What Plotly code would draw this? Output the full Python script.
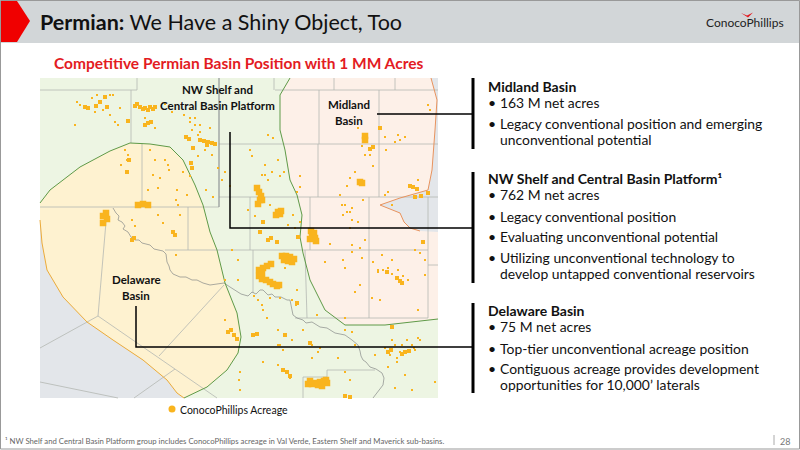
import plotly.graph_objects as go

# ── MAP REGIONS (slide coordinates) ──────────────────────────────────────
MAP_X = [40, 438, 438, 40]
MAP_Y = [78, 78, 398, 398]

DELAWARE_X = [40, 50, 80, 110, 130, 150, 170, 183, 195, 203, 210, 217, 225, 237, 241, 238, 227, 207, 184,
              177, 167, 143, 113, 87, 63, 47, 42, 40]
DELAWARE_Y = [203, 190, 167, 151, 143, 144, 147, 160, 185, 205, 232, 250, 283, 313, 337, 353, 370, 387, 398,
              393, 380, 360, 340, 322, 297, 270, 243, 220]

WEST_GRAY_X = [40, 42, 47, 63, 87, 113, 143, 167, 177, 184, 40]
WEST_GRAY_Y = [220, 243, 270, 297, 322, 340, 360, 380, 393, 398, 398]

MIDLAND_X = [290, 280, 280, 285, 290, 297, 302, 300, 303, 310, 325, 345, 385, 438, 438]
MIDLAND_Y = [78, 95, 130, 150, 180, 195, 215, 237, 253, 280, 310, 325, 325, 319, 78]

EAST_GRAY_X = [431, 437, 435, 432, 428, 400, 380, 400, 404, 410, 420, 438, 438]
EAST_GRAY_Y = [78, 100, 130, 170, 190, 198, 205, 213, 222, 228, 231, 232, 78]

# county / state boundary lines, None breaks the line
COUNTY_X = [40, 137, 137, None, 131, 131, None, 142, 142, None, 40, 219, None, 219, 438, None,
            275, 438, None, 274, 274, None, 334, 334, None, 395, 395, None, 319, 319, None,
            379, 379, None, 318, 318, None, 219, 438, None, 250, 250, None, 310, 310, None,
            369, 369, None, 428, 428, None, 188, 188, None, 165, 428, None, 253, 253, None,
            305, 307, None, 295, 428, None, 428, 438, None, 106, 98, None, 98, 175, 217, None,
            98, 40, None, 224, 159, None, 175, 134, None, 40, 118, None, 303, 303, 327, 327, 375]
COUNTY_Y = [90, 90, 78, None, 90, 143, None, 143, 207, None, 207, 207, None, 144, 144, None,
            90, 90, None, 78, 90, None, 78, 90, None, 78, 90, None, 90, 144, None,
            90, 197, None, 144, 197, None, 197, 197, None, 197, 250, None, 197, 250, None,
            197, 318, None, 197, 318, None, 207, 250, None, 250, 250, None, 250, 293, None,
            250, 318, None, 318, 318, None, 265, 265, None, 222, 316, None, 316, 369, 398, None,
            316, 348, None, 285, 356, None, 369, 398, None, 382, 398, None, 398, 377, 377, 370, 370]
STATE_X = [219, 219]
STATE_Y = [78, 207]

RIVER_X = [113, 116, 119, 118, 122, 125, 123, 128, 131, 135, 139, 142, 146, 150, 154, 158, 163, 166, 167, 169,
           170, 173, 176, 180, 186, 192, 197, 203, 210, 217, 224, 230, 235, 241, 248, 252, 256, 260, 263, 268,
           272, 275, 281, 287, 290, 292, 293, 297, 303, 306, 312, 320, 327, 335, 345, 352, 358, 360, 361, 363,
           366, 370, 376, 382, 384, 383, 379, 375, 373]
RIVER_Y = [208, 213, 216, 220, 222, 226, 229, 232, 237, 240, 240, 243, 244, 245, 249, 250, 251, 254, 262, 266,
           270, 274, 275, 277, 277, 280, 280, 283, 285, 284, 283, 287, 290, 294, 296, 292, 294, 290, 290, 295,
           294, 297, 297, 300, 300, 308, 315, 318, 320, 323, 322, 327, 328, 333, 335, 340, 345, 351, 356, 360,
           362, 367, 369, 373, 378, 385, 390, 395, 398]

# ── ACREAGE ───────────────────────────────────────────────────────────────
ACRE_BIG_X = [257, 259, 261, 262, 258, 260, 278, 276, 281, 280, 311, 314, 312, 315, 310, 316,
              282, 286, 290, 294, 284, 288, 292, 259, 263, 267, 271, 259, 262, 266, 270, 273, 277, 279, 262,
              308, 312, 316, 320, 324, 327, 310, 318, 322, 326, 143, 138, 148, 106, 103, 107, 103, 365, 365, 360, 362]
ACRE_BIG_Y = [188, 192, 196, 200, 204, 200, 212, 215, 211, 214, 231, 233, 236, 238, 239, 241,
              256, 256, 257, 259, 260, 261, 262, 270, 268, 266, 264, 276, 279, 280, 282, 284, 286, 285, 273,
              384, 384, 383, 382, 381, 383, 381, 385, 386, 380, 204, 205, 205, 213, 216, 219, 223, 136, 140, 182, 183]

ACRE_MID_X = [135, 140, 145, 150, 155, 137, 143, 148, 153, 186, 189, 200, 204, 208, 212, 207, 215, 380, 413, 417, 410,
              415, 421, 428, 263, 260, 268, 271, 277, 298, 297, 132, 134, 88, 85, 128, 148, 145, 151, 193, 191, 192, 127,
              129, 283, 287, 345, 350, 228, 231, 234, 237, 388, 391, 405, 402, 409, 397, 400, 387, 402, 370, 373, 423,
              105, 100, 96, 107, 175, 173, 253, 257, 285, 310, 392, 290]
ACRE_MID_Y = [106, 107, 108, 107, 107, 104, 109, 110, 109, 137, 139, 140, 141, 142, 143, 145, 144, 128, 187, 189, 186,
              197, 196, 193, 222, 232, 240, 238, 242, 237, 303, 240, 238, 108, 107, 121, 123, 125, 122, 148, 163, 168,
              172, 160, 370, 372, 396, 397, 332, 330, 335, 339, 352, 350, 352, 354, 351, 278, 281, 272, 283, 149, 147, 242,
              97, 102, 106, 107, 235, 232, 335, 334, 335, 343, 327, 376]

ACRE_SMALL_X = [77, 115, 118, 110, 145, 155, 165, 172, 190, 195, 200, 205, 212, 218, 225, 230, 222, 128, 127, 150,
                155, 168, 160, 198, 190, 183, 177, 206, 213, 250, 252, 268, 273, 284, 280, 300, 297, 265, 268, 300,
                345, 352, 343, 350, 358, 363, 385, 388, 392, 370, 373, 428, 430, 400, 405, 418, 163, 158, 176,
                132, 135, 343, 345, 352, 362, 373, 378, 382, 392, 415, 420, 425, 360, 380, 418, 232, 238, 225,
                238, 254, 297, 285, 280, 278, 292, 303, 312, 318, 392, 390, 397, 412, 418, 388, 397, 375, 385,
                240, 239, 290, 278, 395, 435, 405, 412, 320, 345, 352, 338, 312, 317, 355, 372, 350, 345, 240,
                300, 295, 330, 325, 97, 103, 110, 92, 80, 75, 95, 113, 120, 190, 192, 184, 195, 198, 200, 210,
                165, 169, 148, 158, 153, 125, 121, 187, 180, 178, 176, 385, 395, 398, 386, 342, 347, 352, 350,
                288, 293, 272, 278, 248, 255, 270, 283, 265, 262, 292, 296, 358, 362, 365, 355, 350, 347, 340,
                225, 232, 258, 263, 267, 402, 407, 414, 378, 383, 388, 392, 398, 403, 408, 425, 352, 360, 365,
                262, 270, 280, 395, 400, 415, 420, 355, 345, 278, 283, 263]
ACRE_SMALL_Y = [102, 122, 125, 115, 118, 128, 104, 112, 118, 125, 132, 150, 155, 168, 172, 186, 180, 155, 160, 150,
                160, 165, 178, 156, 176, 172, 190, 190, 197, 150, 156, 135, 138, 172, 176, 176, 192, 175, 180, 187,
                205, 208, 215, 212, 222, 200, 195, 192, 205, 155, 166, 105, 110, 140, 137, 180, 223, 215, 255,
                220, 226, 260, 268, 252, 258, 262, 270, 255, 260, 250, 253, 260, 285, 300, 310, 250, 260, 280,
                280, 296, 290, 268, 298, 330, 340, 330, 345, 352, 340, 355, 362, 345, 338, 367, 358, 355, 348,
                372, 380, 378, 365, 388, 382, 375, 390, 348, 318, 332, 358, 358, 315, 292, 298, 380, 372, 390,
                222, 228, 244, 262, 95, 110, 95, 98, 105, 125, 112, 95, 108, 122, 130, 115, 118, 135, 125, 128,
                160, 170, 190, 188, 175, 150, 165, 195, 215, 205, 200, 137, 142, 135, 150, 205, 212, 220, 228,
                225, 215, 172, 160, 210, 216, 205, 210, 165, 175, 300, 305, 128, 146, 155, 172, 178, 186, 195,
                320, 330, 300, 310, 318, 345, 340, 348, 272, 270, 268, 274, 270, 276, 280, 275, 245, 248, 240,
                305, 298, 345, 345, 352, 350, 340, 345, 330, 345, 350, 362]

LEGEND_X = [172]
LEGEND_Y = [409]

# ── CALLOUT LEADERS ───────────────────────────────────────────────────────
LEADER_X = [377, 473, None, 230, 230, 473, None, 136, 136, 473]
LEADER_Y = [114, 114, None, 132, 228, 228, None, 306, 347, 347]
BAR_X = [473, 473, None, 473, 473, None, 473, 473]
BAR_Y = [78, 149, None, 172, 283, None, 303, 393]

# ── TEXT ──────────────────────────────────────────────────────────────────
PANEL_HEADS = ['Midland Basin', 'NW Shelf and Central Basin Platform¹', 'Delaware Basin']
PANEL_HEAD_Y = [86, 178, 310]
PANEL_LINES = ['163 M net acres', 'Legacy conventional position and emerging', 'unconventional potential',
               '762 M net acres', 'Legacy conventional position', 'Evaluating unconventional potential',
               'Utilizing unconventional technology to', 'develop untapped conventional reservoirs',
               '75 M net acres', 'Top-tier unconventional acreage position',
               'Contiguous acreage provides development', 'opportunities for 10,000’ laterals']
PANEL_LINE_Y = [102, 123, 139, 194, 216, 236, 257, 273, 326, 348, 368, 384]
PANEL_BULLET = [True, True, False, True, True, True, True, False, True, True, True, False]

MAP_LABELS = ['NW Shelf and', 'Central Basin Platform', 'Midland', 'Basin', 'Delaware', 'Basin']
MAP_LABEL_X = [217, 217, 349, 349, 136, 136]
MAP_LABEL_Y = [89, 105, 104, 120, 279, 295]

FONT = 'Lato'
ORANGE = '#F9B41E'

fig = go.Figure()


def add_area(x, y, fill):
    fig.add_trace(go.Scatter(x=x, y=y, mode='lines', fill='toself', fillcolor=fill,
                             line=dict(color=fill, width=0), hoverinfo='skip'))


def add_line(x, y, color, width):
    fig.add_trace(go.Scatter(x=x, y=y, mode='lines', line=dict(color=color, width=width),
                             hoverinfo='skip'))


def add_acres(x, y, size):
    fig.add_trace(go.Scatter(x=x, y=y, mode='markers', hoverinfo='skip',
                             marker=dict(symbol='square', size=size, color=ORANGE, line=dict(width=0))))


def add_text(text, x, y, size, color='#111111', anchor='left'):
    fig.add_annotation(x=x, y=y, text=text, showarrow=False, xanchor=anchor, yanchor='middle',
                       font=dict(family=FONT, size=size, color=color))


add_area(MAP_X, MAP_Y, '#EDF5E3')
add_area(WEST_GRAY_X, WEST_GRAY_Y, '#E3E6EA')
add_area(MIDLAND_X, MIDLAND_Y, '#FDF0E8')
add_area(EAST_GRAY_X, EAST_GRAY_Y, '#E3E6EA')
add_area(DELAWARE_X, DELAWARE_Y, '#FEF2D0')
add_line(COUNTY_X, COUNTY_Y, '#B4B8B3', 0.8)
add_line(STATE_X, STATE_Y, '#8F9496', 1.2)
add_line(RIVER_X, RIVER_Y, '#868A88', 0.7)
add_line(DELAWARE_X[:19], DELAWARE_Y[:19], '#5F9A48', 1)
add_line(DELAWARE_X[18:], DELAWARE_Y[18:], '#EBAA3A', 1)
add_line(MIDLAND_X[:14], MIDLAND_Y[:14], '#5F9A48', 1)
add_line(EAST_GRAY_X[:-2], EAST_GRAY_Y[:-2], '#E8935E', 1)
add_acres(ACRE_BIG_X, ACRE_BIG_Y, 6.5)
add_acres(ACRE_MID_X, ACRE_MID_Y, 4)
add_acres(ACRE_SMALL_X, ACRE_SMALL_Y, 2)
add_line(LEADER_X, LEADER_Y, '#000000', 1.5)
add_line(BAR_X, BAR_Y, '#000000', 3)
fig.add_trace(go.Scatter(x=LEGEND_X, y=LEGEND_Y, mode='markers', hoverinfo='skip',
                         marker=dict(symbol='circle', size=7, color=ORANGE)))

# logo swoosh
fig.add_trace(go.Scatter(x=[741, 747, 753, 748, 741], y=[13, 15.5, 12.5, 17.5, 13], mode='lines', fill='toself',
                         fillcolor='#E31B23', line=dict(color='#E31B23', width=0), hoverinfo='skip'))

# slide title and captions
add_text('<b>Permian:</b> We Have a Shiny Object, Too', 38, 22, 21.5)
add_text('<b>Competitive Permian Basin Position with 1 MM Acres</b>', 238, 63, 15.5, '#E31B23', 'center')
add_text('ConocoPhillips', 704, 22.5, 12, '#222222')
add_text('ConocoPhillips Acreage', 178, 410, 10.5)
add_text('¹ NW Shelf and Central Basin Platform group includes ConocoPhillips acreage in Val Verde, '
         'Eastern Shelf and Maverick sub-basins.', 3, 441, 7.75, '#666666')
add_text('28', 778, 441, 9, '#777777')

for label, x, y in zip(MAP_LABELS, MAP_LABEL_X, MAP_LABEL_Y):
    add_text(f'<b>{label}</b>', x, y, 11.5, '#111111', 'center')
for head, y in zip(PANEL_HEADS, PANEL_HEAD_Y):
    add_text(f'<b>{head}</b>', 486, y, 14)
for line, y, bullet in zip(PANEL_LINES, PANEL_LINE_Y, PANEL_BULLET):
    add_text(line, 498, y, 13.9)
    if bullet:
        add_text('•', 486, y, 14)

fig.update_layout(
    width=800, height=450, margin=dict(l=0, r=0, t=0, b=0),
    paper_bgcolor='white', plot_bgcolor='white', showlegend=False,
    xaxis=dict(range=[0, 800], visible=False, fixedrange=True),
    yaxis=dict(range=[450, 0], visible=False, fixedrange=True),
    shapes=[
        dict(type='rect', x0=0, x1=800, y0=0, y1=43, fillcolor='#D2D6D8', line_width=0, layer='below'),
        dict(type='path', path='M 0 1 L 17 1 L 30 21 L 17 42 L 0 42 Z', fillcolor='#F00000', line_width=0),
        dict(type='rect', x0=0.5, x1=799.5, y0=0.5, y1=449, line=dict(color='#999999', width=1)),
        dict(type='line', x0=774, x1=774, y0=435, y1=445, line=dict(color='#AAAAAA', width=1)),
    ],
)

fig.write_html('out.html', config={'displayModeBar': False}, post_script="document.body.style.margin='0';")
